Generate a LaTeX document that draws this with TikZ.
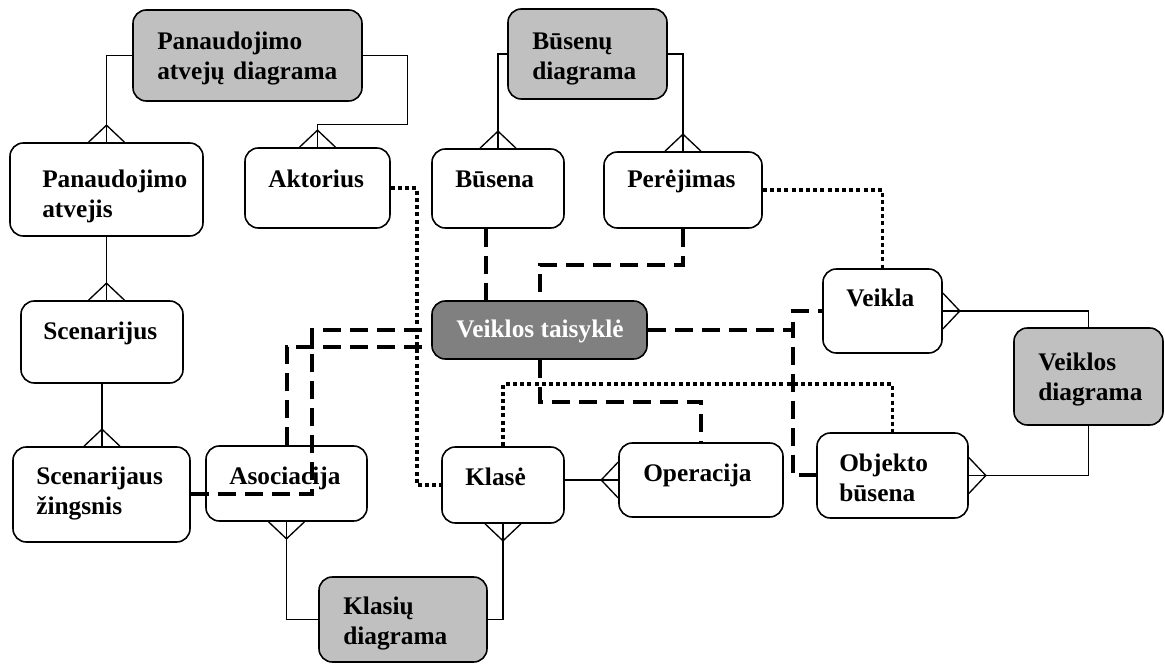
\documentclass[tikz,border=0pt]{standalone}
\usepackage{fontspec}
\setmainfont{Liberation Serif}
\usetikzlibrary{calc,fit}
\definecolor{diagfill}{HTML}{C0C0C0}
\definecolor{rulefill}{HTML}{808080}
\begin{document}
\begin{tikzpicture}[x=0.75pt,y=-0.75pt,
  ent/.style={draw, line width=1.2pt, rounded corners=10pt, fill=white, inner sep=0pt},
  diag/.style={ent, fill=diagfill},
  rulebox/.style={ent, fill=rulefill},
  lbl/.style={inner sep=0pt, anchor=base west, text width=220pt, align=left,
              font=\fontsize{19pt}{22.5pt}\selectfont\bfseries},
  link/.style={line width=1pt},
  strong/.style={line width=3pt, dash pattern=on 13.5pt off 6.75pt},
  weak/.style={line width=2.6pt, dash pattern=on 3pt off 2.4pt},
  crowN/.pic={\draw[link] (-18,0) -- (0,-17) -- (18,0);},
  crowS/.pic={\draw[link] (-18,0) -- (0,17) -- (18,0);},
  crowE/.pic={\draw[link] (0,-18) -- (17,0) -- (0,18);},
  crowW/.pic={\draw[link] (0,-18) -- (-17,0) -- (0,18);}
]
\useasboundingbox (0,0) rectangle (1165,666);

% ---- boxes ----
\node[diag, fit={(133,10) (362,101)}] (pad) {};
\node[ent, fit={(10,143) (203,236)}] (pa) {};
\node[ent, fit={(245,148) (390,228)}] (akt) {};
\node[diag, fit={(508,9) (667,99)}] (bd) {};
\node[ent, fit={(432,149) (564,228)}] (bus) {};
\node[ent, fit={(604,152) (762,228)}] (per) {};
\node[rulebox, fit={(432,301) (647,359)}] (vt) {};
\node[ent, fit={(823,269) (942,353)}] (veikla) {};
\node[diag, fit={(1014,328) (1163,425)}] (vd) {};
\node[ent, fit={(817,433) (968,518)}] (ob) {};
\node[ent, fit={(21,301) (183,383)}] (scen) {};
\node[ent, fit={(13,447) (190,542)}] (sz) {};
\node[ent, fit={(206,446) (367,521)}] (asoc) {};
\node[ent, fit={(442,447) (564,523)}] (kla) {};
\node[ent, fit={(619,443) (783,517)}] (op) {};
\node[diag, fit={(319,577) (487,662)}] (kd) {};

% ---- texts ----
\node[lbl] (padT) at (157,50) {Panaudojimo\\atvejų diagrama};
\node[lbl] (paT) at (42,188) {Panaudojimo\\atvejis};
\node[lbl] (aktT) at (268,188) {Aktorius};
\node[lbl] (bdT) at (532,50) {Būsenų\\diagrama};
\node[lbl] (busT) at (455,188) {Būsena};
\node[lbl] (perT) at (627,188) {Perėjimas};
\node[inner sep=0pt, anchor=base, text=white,
      font=\fontsize{19pt}{22.5pt}\selectfont\bfseries] (vtT) at (540,338) {Veiklos taisyklė};
\node[lbl] (veiklaT) at (846,307) {Veikla};
\node[lbl] (vdT) at (1038,371) {Veiklos\\diagrama};
\node[lbl] (obT) at (839,472) {Objekto\\būsena};
\node[lbl] (scenT) at (43,340) {Scenarijus};
\node[lbl] (szT) at (36,485) {Scenarijaus\\žingsnis};
\node[lbl] (asocT) at (229,485) {Asociacija};
\node[lbl] (klaT) at (465,486) {Klasė};
\node[lbl] (opT) at (643,482) {Operacija};
\node[lbl] (kdT) at (343,615) {Klasių\\diagrama};

% ---- structural links with crow's feet ----
\draw[link] (pad.west) -| (pa.north);
\pic at (pa.north) {crowN};
\draw[link] (pad.east) -- ++(45,0) |- ($(akt.north)+(0,-23)$) -- (akt.north);
\pic at (akt.north) {crowN};
\draw[link] (bd.west) -| (bus.north);
\pic at (bus.north) {crowN};
\draw[link] (bd.east) -| (per.north);
\pic at (per.north) {crowN};
\draw[link] (pa.south) -- (pa.south |- scen.north);
\pic at (pa.south |- scen.north) {crowN};
\draw[link] (scen.south) -- (scen.south |- sz.north);
\pic at (scen.south |- sz.north) {crowN};
\draw[link] (veikla.east) -| (vd.north);
\pic at (veikla.east) {crowE};
\draw[link] (vd.south) |- (ob.east);
\pic at (ob.east) {crowE};
\draw[link] (kla.east |- op.west) -- (op.west);
\pic at (op.west) {crowW};
\draw[link] (asoc.south) |- (kd.west);
\pic at (asoc.south) {crowS};
\draw[link] (kla.south) |- (kd.east);
\pic at (kla.south) {crowS};

% ---- business rule links (dashed) ----
\coordinate (busd) at ($(bus.south)+(-12,0)$);
\draw[strong] (busd) -- (busd |- vt.north);
\draw[strong] (per.south) -- ++(0,36) -| (vt.north);
\draw[strong] (sz.east) -- ++(121,0) |- (vt.west);
\draw[strong] (asoc.north) |- ($(vt.west)+(0,17)$);
\draw[strong] (vt.east) -- ++(145,0) |- (veikla.west);
\draw[strong] (vt.east) -- ++(145,0) |- (ob.west);
\draw[strong] (vt.south) -- ++(0,42) -| (op.north);

% ---- cross-model links (dotted) ----
\draw[weak] (akt.east) -- ++(26,0) |- (kla.west);
\draw[weak] (per.east) -| (veikla.north);
\draw[weak] (kla.north) -- ++(0,-62) -| (ob.north);
\end{tikzpicture}
\end{document}
